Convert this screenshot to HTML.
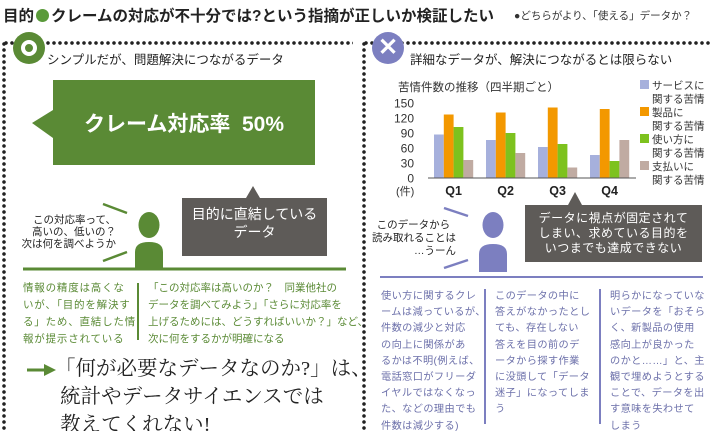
<!DOCTYPE html>
<html><head><meta charset="utf-8">
<style>
*{margin:0;padding:0;box-sizing:border-box}
html,body{width:710px;height:431px;overflow:hidden}
body{background:#fff;position:relative;font-family:"Liberation Sans","Noto Sans CJK JP",sans-serif;color:#333}
.a{position:absolute;white-space:nowrap}
.dotH{position:absolute;height:4px;background:radial-gradient(circle,#222 1.6px,transparent 2px) 0 0/6px 4px repeat-x}
.dotV{position:absolute;width:4px;background:radial-gradient(circle,#222 1.6px,transparent 2px) 0 0/4px 6px repeat-y}
.gcol{color:#5a8a35;font-size:10.5px;line-height:17px}
.bcol{color:#6c70aa;font-size:10.2px;line-height:16.2px;letter-spacing:0.4px}
</style></head><body>
<div class="a" style="left:3px;top:4px;font-size:15.5px;font-weight:bold;color:#222">目的<span style="display:inline-block;width:13px;height:13px;border-radius:50%;background:#5a9a3a;vertical-align:-1px;margin:0 2px"></span>クレームの対応が不十分では?という指摘が正しいか検証したい</div>
<div class="a" style="left:514px;top:8px;font-size:10.5px;color:#333">●どちらがより、「使える」データか？</div>

<div class="dotH" style="left:3px;top:41px;width:350px"></div>
<div class="dotV" style="left:2px;top:41px;height:390px"></div>
<div class="dotH" style="left:363px;top:41px;width:347px"></div>
<div class="dotV" style="left:362px;top:41px;height:390px"></div>

<div class="a" style="left:13px;top:32px;width:32px;height:32px;border-radius:50%;background:#5a8a35"><div style="position:absolute;left:8px;top:8px;width:16px;height:16px;border-radius:50%;border:4px solid #fff"></div></div>
<div class="a" style="left:47px;top:49px;font-size:12.5px;color:#222">シンプルだが、問題解決につながるデータ</div>
<svg class="a" style="left:0;top:0" width="360" height="431">
<polygon points="53,80 315,80 315,165 53,165 53,138 32,123 53,110" fill="#5a8a35"/>
<polygon points="182,198 246,198 253,186 260,198 327,198 327,256 182,256" fill="#5e5b58"/>
<ellipse cx="149" cy="225" rx="10.5" ry="13" fill="#5a8a35"/>
<path d="M135,270 L135,252 Q135,242 149,242 Q163,242 163,252 L163,270Z" fill="#5a8a35"/>
<line x1="103" y1="204" x2="127" y2="213" stroke="#5a8a35" stroke-width="2.5"/>
<line x1="103" y1="261" x2="127" y2="252" stroke="#5a8a35" stroke-width="2.5"/>
<line x1="23" y1="269" x2="346" y2="269" stroke="#5a8a35" stroke-width="3"/>
<line x1="138" y1="283" x2="138" y2="340" stroke="#5a8a35" stroke-width="2"/>
<line x1="27" y1="370" x2="45" y2="370" stroke="#5a8a35" stroke-width="3"/>
<polygon points="44,364 56,370 44,376" fill="#5a8a35"/>
</svg>
<div class="a" style="left:53px;top:108px;width:262px;text-align:center;font-size:21px;font-weight:bold;color:#fff">クレーム対応率&nbsp; 50%</div>
<div class="a" style="left:182px;top:205px;width:145px;text-align:center;font-size:14px;line-height:18px;color:#fff">目的に直結している<br>データ</div>
<div class="a" style="left:10px;top:215px;width:106px;text-align:right;font-size:10.5px;line-height:11.8px;color:#222">この対応率って、<br>高いの、低いの？<br>次は何を調べようか</div>
<div class="a gcol" style="left:23px;top:280px;letter-spacing:0.8px">情報の精度は高くな<br>いが、「目的を解決す<br>る」ため、直結した情<br>報が提示されている</div>
<div class="a gcol" style="left:148px;top:280px;letter-spacing:0px">「この対応率は高いのか？　同業他社の<br>データを調べてみよう」「さらに対応率を<br>上げるためには、どうすればいいか？」など、<br>次に何をするかが明確になる</div>
<div class="a" style="left:55px;top:355px;font-family:'Liberation Serif','Noto Serif CJK SC',serif;font-size:20.5px;line-height:28px;color:#222">「何が必要なデータなのか?」は、<br>&nbsp;統計やデータサイエンスでは<br>&nbsp;教えてくれない!</div>

<div class="a" style="left:372px;top:32px;width:32px;height:32px;border-radius:50%;background:#7c7fc0;color:#fff;font-size:24px;font-weight:bold;text-align:center;line-height:32px">✕</div>
<div class="a" style="left:410px;top:49px;font-size:12.5px;color:#222">詳細なデータが、解決につながるとは限らない</div>

<svg class="a" id="chart" style="left:0;top:0" width="710" height="431"></svg>

<svg class="a" style="left:0;top:0" width="710" height="431">
<polygon points="525,205 568,205 575,192 582,205 702,205 702,262 525,262" fill="#5e5b58"/>
<ellipse cx="493" cy="225" rx="10.5" ry="13" fill="#7c7fc0"/>
<path d="M479,272 L479,254 Q479,244 493,244 Q507,244 507,254 L507,272Z" fill="#7c7fc0"/>
<line x1="444" y1="208" x2="468" y2="216" stroke="#7c7fc0" stroke-width="2.5"/>
<line x1="444" y1="268" x2="468" y2="260" stroke="#7c7fc0" stroke-width="2.5"/>
<line x1="380" y1="277" x2="703" y2="277" stroke="#7c7fc0" stroke-width="2"/>
<line x1="485" y1="289" x2="485" y2="424" stroke="#7c7fc0" stroke-width="2"/>
<line x1="600" y1="289" x2="600" y2="424" stroke="#7c7fc0" stroke-width="2"/>
</svg>
<div class="a" style="left:525px;top:211px;width:177px;text-align:center;font-size:12px;line-height:15px;color:#fff;letter-spacing:0.5px">データに視点が固定されて<br>しまい、求めている目的を<br>いつまでも達成できない</div>
<div class="a" style="left:370px;top:219px;width:86px;text-align:right;font-size:10.5px;line-height:13px;color:#222">このデータから&nbsp;&nbsp;<br>読み取れることは<br>…うーん</div>
<div class="a bcol" style="left:381px;top:289px">使い方に関するクレ<br>ームは減っているが、<br>件数の減少と対応<br>の向上に関係があ<br>るかは不明(例えば、<br>電話窓口がフリーダ<br>イヤルではなくなっ<br>た、などの理由でも<br>件数は減少する)</div>
<div class="a bcol" style="left:495px;top:289px">このデータの中に<br>答えがなかったとし<br>ても、存在しない<br>答えを目の前のデ<br>ータから探す作業<br>に没頭して「データ<br>迷子」になってしま<br>う</div>
<div class="a bcol" style="left:610px;top:289px">明らかになっていな<br>いデータを「おそら<br>く、新製品の使用<br>感向上が良かった<br>のかと……」と、主<br>観で埋めようとする<br>ことで、データを出<br>す意味を失わせて<br>しまう</div>

<script>
const categories=["Q1","Q2","Q3","Q4"];
const serviceVals=[87,76,62,46];
const productVals=[127,131,141,138];
const usageVals=[102,90,68,34];
const paymentVals=[36,50,21,76];
const yTicks=[0,30,60,90,120,150];
const seriesNames=["サービスに|関する苦情","製品に|関する苦情","使い方に|関する苦情","支払いに|関する苦情"];
const colors=["#a6b0dc","#f39800","#7dc21e","#c0aba2"];
const series=[serviceVals,productVals,usageVals,paymentVals];
const svg=document.getElementById('chart');const NS='http://www.w3.org/2000/svg';
const y0=178,yTop=103,x0=428,plotW=208;
const y=v=>y0-(v/150)*(y0-yTop);
const gw=plotW/categories.length,bw=9.8;
const xg=i=>x0+i*gw+6;
function mk(t,a,txt){const e=document.createElementNS(NS,t);for(const k in a)e.setAttribute(k,a[k]);if(txt!==undefined)e.textContent=txt;svg.appendChild(e);return e;}
let t=mk('text',{x:398,y:91,'font-size':11.5,fill:'#333'},'苦情件数の推移（四半期ごと）');


yTicks.forEach(v=>{const e=mk('text',{x:414,y:y(v)+4.5,'font-size':12,fill:'#333','text-anchor':'end'},v);

});
t=mk('text',{x:396,y:195,'font-size':11,fill:'#333'},'(件)');


series.forEach((s,si)=>s.forEach((v,i)=>{const r=mk('rect',{x:xg(i)+si*bw,y:y(v),width:bw,height:y0-y(v),fill:colors[si]});

}));
let ax=mk('line',{x1:x0,y1:y0,x2:x0+plotW,y2:y0,stroke:'#555','stroke-width':1});


categories.forEach((c,i)=>{const e=mk('text',{x:xg(i)+2*bw,y:195,'font-size':12.5,'font-weight':'bold',fill:'#222','text-anchor':'middle'},c);

});
seriesNames.forEach((n,i)=>{const yy=80+i*27;const r=mk('rect',{x:640,y:yy,width:9,height:9,fill:colors[i]});


const p=n.split('|');const a=mk('text',{x:652,y:yy+9,'font-size':10.5,fill:'#333'},p[0]);


const b=mk('text',{x:652,y:yy+22.5,'font-size':10.5,fill:'#333'},p[1]);

});
</script>
</body></html>
